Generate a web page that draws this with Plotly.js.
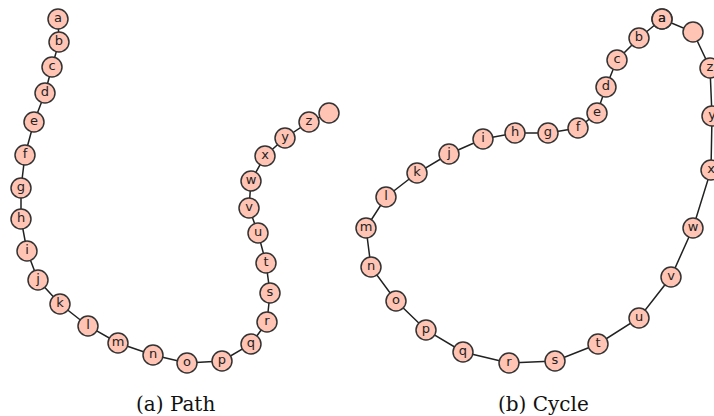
<!DOCTYPE html>
<html>
<head>
<meta charset="utf-8">
<script src="https://cdn.plot.ly/plotly-3.0.1.min.js"></script>
<style>html,body{margin:0;padding:0;background:#fff;}#chart{width:714px;height:416px;}</style>
</head>
<body>
<div id="chart"></div>
<script>
// Path graph (a): node labels and positions (pixel units)
const pathLabels = ["a","b","c","d","e","f","g","h","i","j","k","l","m","n","o","p","q","r","s","t","u","v","w","x","y","z",""];
const pathX = [58,59,52,45,34,25,21,21,27,38,60,88,118,153,187,222,251,267,270,266,258,249,251,265,285,309,329];
const pathY = [19,42,67,93,122,155,188,219,251,280,304,326,343,355,363,361,344,322,293,263,233,208,181,156,138,122,113];

// Cycle graph (b)
const cycleLabels = ["a","b","c","d","e","f","g","h","i","j","k","l","m","n","o","p","q","r","s","t","u","v","w","x","y","z",""];
const cycleX = [662,639,617,606,597,578,548,515,483,449,417,386,366,371,396,426,463,509,555,598,639,671,693,711,712,710,693];
const cycleY = [19,38,60,87,113,128,133,133,139,154,173,197,228,267,301,330,352,363,361,344,318,277,228,170,116,68,32];

const captions = ["(a) Path", "(b) Cycle"];
const captionX = [175, 543];
const captionY = [404, 404];

function closeLoop(arr){ return arr.concat([arr[0]]); }

const nodeStyle = {
  size: 20,
  color: "#ffc4b4",
  line: {color: "#333333", width: 1.5}
};
const edgeStyle = {color: "#222222", width: 1.5};
const labelFont = {family: "DejaVu Sans", size: 13, color: "#222222"};

const traces = [
  {
    x: pathX, y: pathY, text: pathLabels,
    mode: "lines+markers+text", textposition: "middle center",
    type: "scatter", marker: nodeStyle, line: edgeStyle,
    textfont: labelFont, hoverinfo: "text", showlegend: false
  },
  {
    x: closeLoop(cycleX), y: closeLoop(cycleY), text: closeLoop(cycleLabels),
    mode: "lines+markers+text", textposition: "middle center",
    type: "scatter", marker: nodeStyle, line: edgeStyle,
    textfont: labelFont, hoverinfo: "text", showlegend: false
  }
];

const layout = {
  width: 714, height: 416,
  margin: {l: 0, r: 0, t: 0, b: 0},
  paper_bgcolor: "#ffffff", plot_bgcolor: "#ffffff",
  xaxis: {range: [0, 714], visible: false, fixedrange: true},
  yaxis: {range: [416, 0], visible: false, fixedrange: true},
  annotations: captions.map((c, i) => ({
    x: captionX[i], y: captionY[i], xref: "x", yref: "y",
    text: c, showarrow: false,
    font: {family: "DejaVu Serif", size: 20, color: "#111111"}
  }))
};

Plotly.newPlot("chart", traces, layout, {staticPlot: true});
</script>
</body>
</html>
